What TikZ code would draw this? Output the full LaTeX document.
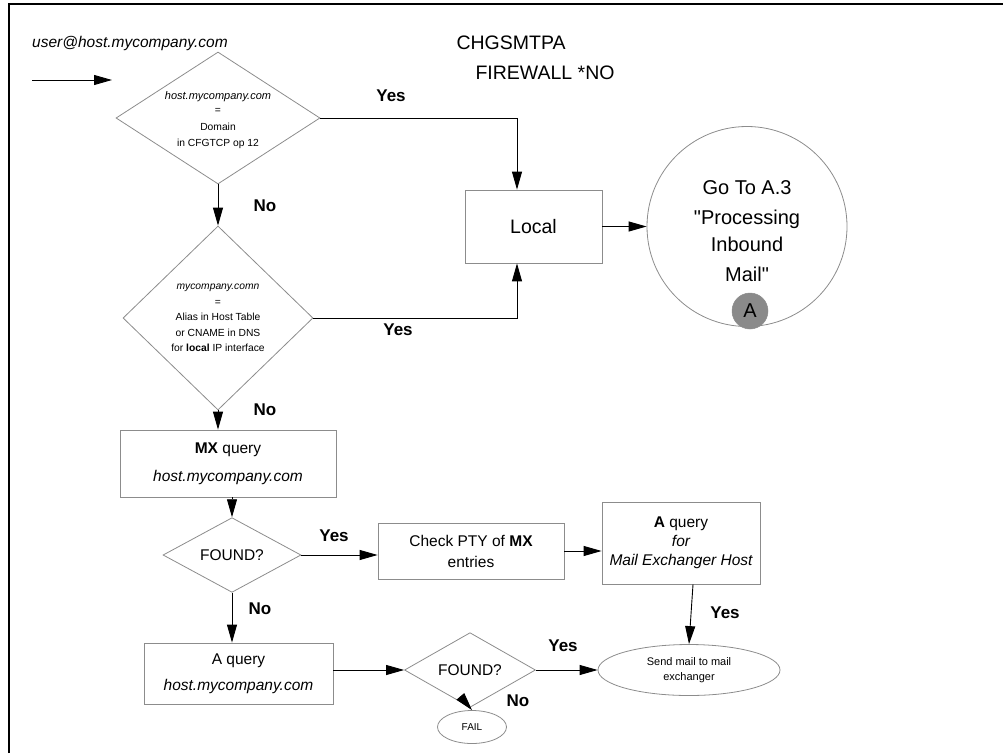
\documentclass[tikz,border=0pt]{standalone}
\usepackage{fontspec}
\setmainfont{Liberation Sans}
\usetikzlibrary{arrows.meta,shapes.geometric,calc}
\definecolor{outline}{HTML}{8C8C8C}
\definecolor{markfill}{HTML}{8A8A8A}
\begin{document}
\begin{tikzpicture}[x=1pt,y=-1pt,
  boxnode/.style={draw=outline, line width=0.8pt, rectangle, inner sep=0pt},
  dianode/.style={draw=outline, line width=0.8pt, diamond, inner sep=0pt},
  ovalnode/.style={draw=outline, line width=0.8pt, ellipse, inner sep=0pt},
  flow/.style={draw=black, line width=0.9pt, -{Triangle[length=18pt,width=10pt]}},
  answer/.style={font=\bfseries\fontsize{17}{20}\selectfont},
  smalltxt/.style={align=center, font=\fontsize{10.3}{15.5}\selectfont},
  midtxt/.style={align=center, font=\fontsize{15.5}{28}\selectfont},
  bigtxt/.style={align=center, font=\fontsize{20}{30}\selectfont},
]
\useasboundingbox (0,0) rectangle (1003,753);

% outer frame (top and left edges)
\draw[line width=1.6pt] (9,753) -- (9,4) -- (1003,4);

% heading and incoming address
\node[anchor=west, font=\fontsize{19.5}{24}\selectfont] (title1) at (453,43) {CHGSMTPA};
\node[anchor=west, font=\fontsize{19.5}{24}\selectfont] (title2) at (472,73) {FIREWALL *NO};
\node[anchor=west, inner sep=0pt, font=\itshape\fontsize{15.5}{18}\selectfont] (addr) at (32,43) {user@host.mycompany.com};
\coordinate (in0) at (32,80);
\coordinate (in1) at (112,80);
\draw[flow] (in0) -- (in1);

% first decision
\node[dianode, minimum width=204pt, minimum height=132pt] (d1) at (218,118) {};
\node[smalltxt] (d1t) at (218,120) {{\itshape\fontsize{11}{15.5}\selectfont host.mycompany.com}\\[-2pt] =\\[2pt] Domain\\ in CFGTCP op 12};

% second decision
\node[dianode, minimum width=190pt, minimum height=184pt] (d2) at (218,318) {};
\node[smalltxt] (d2t) at (218,318) {{\itshape mycompany.comn}\\ =\\ Alias in Host Table\\ or CNAME in DNS\\ for \textbf{local} IP interface};

% local delivery
\node[boxnode, minimum width=137pt, minimum height=73pt, font=\fontsize{19.5}{24}\selectfont] (local) at (533.5,226.5) {Local};
\node[circle, draw=outline, line width=0.8pt, minimum size=200pt, inner sep=0pt] (goto) at (747,226.5) {};
\node[bigtxt] (gotot) at (747,231) {Go To A.3\\ \textquotedbl Processing\\[-3pt] Inbound\\ Mail\textquotedbl};
\node[circle, fill=markfill, draw=outline, line width=0.5pt, minimum width=36pt, inner sep=0pt, font=\fontsize{20}{24}\selectfont] (mark) at (750,311) {A};

% MX path
\node[boxnode, minimum width=216pt, minimum height=67pt, midtxt] (mx) at (228,463.5) {\textbf{MX} query\\ \itshape host.mycompany.com};
\node[dianode, minimum width=138pt, minimum height=49pt, font=\fontsize{15.5}{18}\selectfont] (f1) at (232,555) {FOUND?};
\node[boxnode, minimum width=186pt, minimum height=56pt, align=center, font=\fontsize{15.5}{21}\selectfont] (chk) at (471,551) {Check PTY of \textbf{MX}\\ entries};
\node[boxnode, minimum width=158pt, minimum height=82pt, align=center, font=\fontsize{15.5}{19}\selectfont] (aq) at (681,543) {\textbf{A} query\\ \itshape for\\ \itshape Mail Exchanger Host};
\node[ovalnode, minimum width=182pt, minimum height=51pt, align=center, font=\fontsize{11}{14.5}\selectfont] (send) at (689,670) {Send mail to mail\\ exchanger};

% A record path
\node[boxnode, minimum width=189pt, minimum height=61pt, align=center, font=\fontsize{15.5}{26}\selectfont] (aq2) at (238.5,673.5) {A query\\ \itshape host.mycompany.com};
\node[dianode, minimum width=131pt, minimum height=48pt, font=\fontsize{15.5}{18}\selectfont] (f2) at (470,670) {FOUND?};
\node[ovalnode, minimum width=69pt, minimum height=33pt, font=\fontsize{10}{12}\selectfont] (fail) at (472,727) {FAIL};

% connectors
\draw[flow] (d1.east) -| ([xshift=-16.5pt]local.north);
\draw[flow] (d2.east) -| ([xshift=-16.5pt]local.south);
\draw[flow] (local.east) -- (goto.west);
\draw[flow] (d1.south) -- (d2.north);
\draw[flow] (d2.south) -- (d2.south |- mx.north);
\draw[flow] (f1.north |- mx.south) -- (f1.north);
\draw[flow] (f1.east) -- (f1.east -| chk.west);
\draw[flow] (chk.east) -- (chk.east -| aq.west);
\draw[flow] ([xshift=12pt]aq.south) -- (send.north);
\draw[flow] (f1.south) -- (f1.south |- aq2.north);
\draw[flow] (aq2.east |- f2.west) -- (f2.west);
\draw[flow] (f2.east) -- (send.west);
\draw[flow] (f2.south) -- (fail.north);

% answer labels
\node[answer] (y1) at (391,96) {Yes};
\node[answer] (n1) at (265,206) {No};
\node[answer] (y2) at (398,330) {Yes};
\node[answer] (n2) at (265,410) {No};
\node[answer] (y3) at (334,536) {Yes};
\node[answer] (n3) at (260,609) {No};
\node[answer] (y4) at (725,613) {Yes};
\node[answer] (y5) at (563,646) {Yes};
\node[answer] (n4) at (518,701) {No};
\end{tikzpicture}
\end{document}
